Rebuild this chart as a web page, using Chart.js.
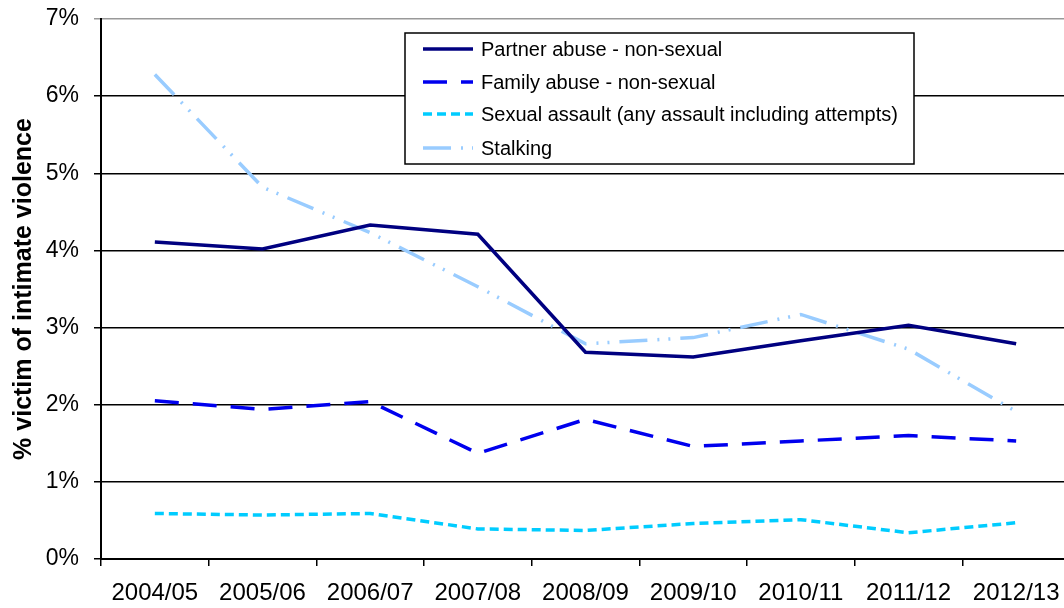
<!DOCTYPE html>
<html>
<head>
<meta charset="utf-8">
<script src="https://cdn.jsdelivr.net/npm/chart.js@4"></script>
<style>
  html, body { margin: 0; padding: 0; background: #fff; overflow: hidden; }
  #wrap { width: 1080px; height: 608px; }
</style>
</head>
<body>
<div id="wrap"><canvas id="chart" width="1080" height="608"></canvas></div>
<script>
var years = ["2004/05", "2005/06", "2006/07", "2007/08", "2008/09", "2009/10", "2010/11", "2011/12", "2012/13"];
var partnerAbuse = [4.11, 4.02, 4.33, 4.21, 2.68, 2.62, 2.83, 3.03, 2.79];
var familyAbuse = [2.05, 1.94, 2.04, 1.37, 1.81, 1.46, 1.53, 1.60, 1.53];
var sexualAssault = [0.59, 0.57, 0.59, 0.39, 0.37, 0.46, 0.51, 0.34, 0.47];
var stalking = [6.28, 4.82, 4.23, 3.53, 2.79, 2.87, 3.17, 2.72, 1.91];
var yTicks = [0, 1, 2, 3, 4, 5, 6, 7];

var font = "'Liberation Sans', Arial, sans-serif";

// legend drawn by hand so the dash styles show like the original
var legendBox = {
  id: 'legendBox',
  afterDraw: function (chart) {
    var ctx = chart.ctx;
    ctx.save();
    ctx.fillStyle = '#fff';
    ctx.fillRect(405, 33, 509, 131);
    ctx.strokeStyle = '#000';
    ctx.lineWidth = 1.5;
    ctx.strokeRect(405, 33, 509, 131);
    var rows = [49, 82, 114, 148];
    chart.data.datasets.forEach(function (ds, i) {
      ctx.beginPath();
      ctx.strokeStyle = ds.borderColor;
      ctx.lineWidth = ds.borderWidth;
      ctx.setLineDash(ds.borderDash || []);
      ctx.moveTo(423, rows[i]);
      ctx.lineTo(473, rows[i]);
      ctx.stroke();
      ctx.setLineDash([]);
      ctx.fillStyle = '#000';
      ctx.font = '20px ' + font;
      ctx.textBaseline = 'middle';
      ctx.fillText(ds.label, 481, rows[i] + 1);
    });
    ctx.restore();
  }
};

new Chart(document.getElementById("chart"), {
  type: 'line',
  data: {
    labels: years,
    datasets: [
      {
        label: "Partner abuse - non-sexual",
        data: partnerAbuse,
        borderColor: "#000080",
        borderWidth: 3.5,
        pointRadius: 0,
        tension: 0
      },
      {
        label: "Family abuse - non-sexual",
        data: familyAbuse,
        borderColor: "#0000ee",
        borderWidth: 3.5,
        borderDash: [24, 14],
        pointRadius: 0,
        tension: 0
      },
      {
        label: "Sexual assault (any assault including attempts)",
        data: sexualAssault,
        borderColor: "#00ccff",
        borderWidth: 3.5,
        borderDash: [9, 5],
        pointRadius: 0,
        tension: 0
      },
      {
        label: "Stalking",
        data: stalking,
        borderColor: "#99ccff",
        borderWidth: 3.5,
        borderDash: [28, 10, 2, 9, 2, 10],
        pointRadius: 0,
        tension: 0
      }
    ]
  },
  plugins: [legendBox],
  options: {
    responsive: false,
    animation: false,
    layout: { padding: { top: 19, right: 10, bottom: 0, left: 0 } },
    plugins: {
      legend: { display: false },
      tooltip: { enabled: false }
    },
    scales: {
      x: {
        offset: true,
        grid: {
          offset: true,
          drawOnChartArea: false,
          drawTicks: true,
          tickLength: 7,
          color: '#000',
          lineWidth: 1.5
        },
        border: { color: '#000', width: 2 },
        ticks: {
          color: '#000',
          font: { family: font, size: 24 },
          padding: 13,
          maxRotation: 0,
          autoSkip: false
        },
        afterFit: function (scale) {
          scale.height = 49;
          scale.paddingLeft = 0;
          scale.paddingRight = 0;
        }
      },
      y: {
        min: 0,
        max: 7,
        afterBuildTicks: function (scale) {
          scale.ticks = yTicks.map(function (v) { return { value: v }; });
        },
        grid: {
          color: function (c) { return c.tick && c.tick.value === 7 ? '#999' : '#000'; },
          lineWidth: 1.5,
          tickLength: 7
        },
        border: { color: '#000', width: 2 },
        ticks: {
          color: '#000',
          font: { family: font, size: 23 },
          padding: 15,
          callback: function (v) { return v + '%'; }
        },
        title: {
          display: true,
          text: '% victim of intimate violence',
          color: '#000',
          font: { family: font, size: 25, weight: 'bold' },
          padding: { top: 9, bottom: 0 }
        },
        afterFit: function (scale) {
          scale.width = 101;
          scale.paddingTop = 0;
          scale.paddingBottom = 0;
        }
      }
    }
  }
});
</script>
</body>
</html>
